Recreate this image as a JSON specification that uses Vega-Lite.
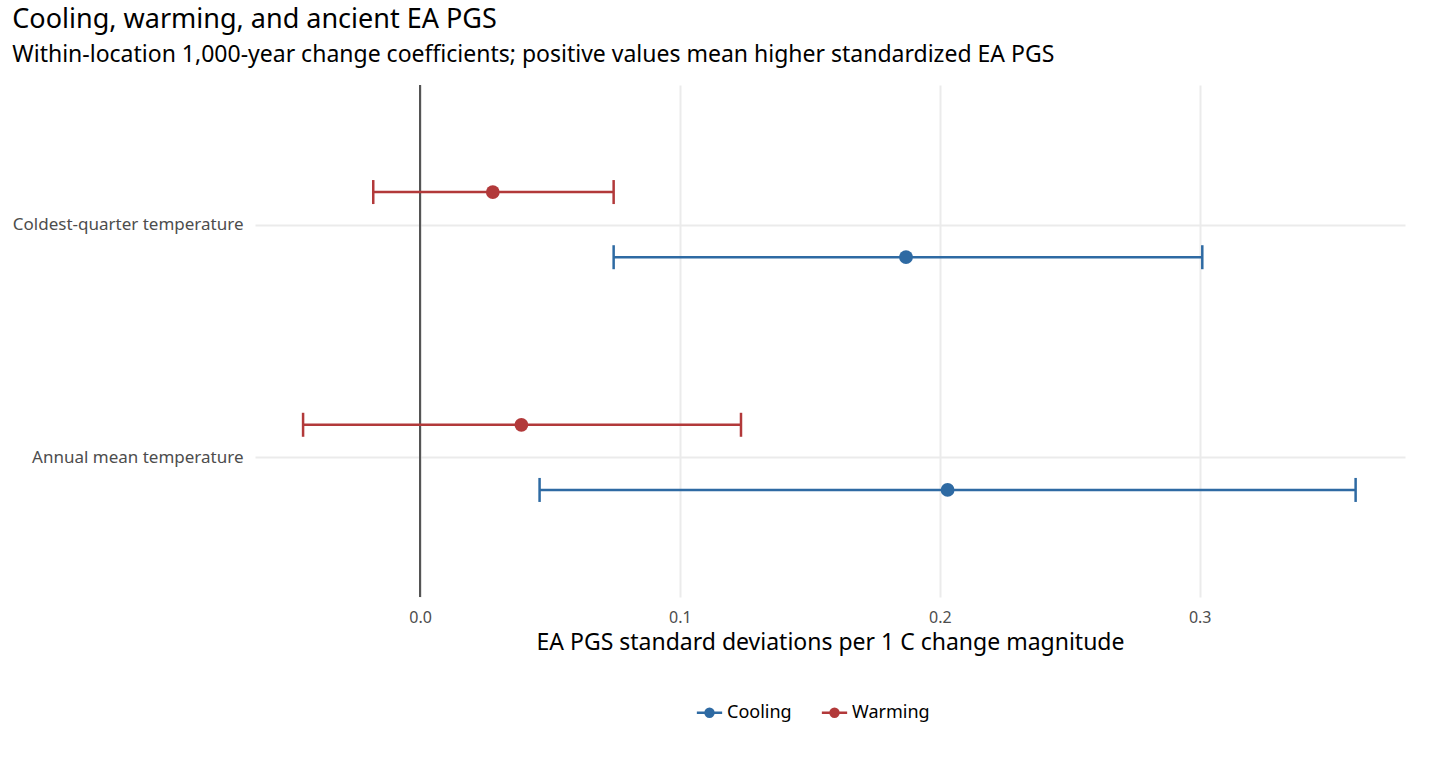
{
  "$schema": "https://vega.github.io/schema/vega-lite/v6.json",
  "width": 1150,
  "height": 512,
  "padding": {"left": 12, "top": 6, "right": 10, "bottom": 10},
  "background": "white",
  "config": {
    "font": "Noto Sans",
    "view": {"stroke": null},
    "axis": {"domain": false, "ticks": false, "grid": true, "gridColor": "#ebebeb", "gridWidth": 2, "labelColor": "#4d4d4d", "labelFontSize": 16}
  },
  "title": {
    "text": "Cooling, warming, and ancient EA PGS",
    "subtitle": "Within-location 1,000-year change coefficients; positive values mean higher standardized EA PGS",
    "anchor": "start", "frame": "bounds", "fontSize": 27, "fontWeight": "normal", "color": "#000",
    "subtitleFontSize": 23, "subtitleColor": "#000", "subtitlePadding": 10, "offset": 16
  },
  "data": {"values": [
    {"variable": "Coldest-quarter temperature", "yv": 2.14, "group": "Warming", "est": 0.028, "lo": -0.018, "hi": 0.0745},
    {"variable": "Coldest-quarter temperature", "yv": 1.86, "group": "Cooling", "est": 0.187, "lo": 0.0745, "hi": 0.301},
    {"variable": "Annual mean temperature", "yv": 1.14, "group": "Warming", "est": 0.039, "lo": -0.045, "hi": 0.1235},
    {"variable": "Annual mean temperature", "yv": 0.86, "group": "Cooling", "est": 0.203, "lo": 0.046, "hi": 0.36}
  ]},
  "encoding": {
    "y": {"field": "yv", "type": "quantitative", "scale": {"domain": [0.4, 2.6], "nice": false, "zero": false},
      "axis": {"values": [1, 2], "title": null, "grid": true, "labelFontSize": 17, "labelLimit": 400, "labelExpr": "datum.value == 2 ? 'Coldest-quarter temperature' : 'Annual mean temperature'", "labelPadding": 12}},
    "color": {"field": "group", "type": "nominal", "scale": {"domain": ["Cooling", "Warming"], "range": ["#2e6aa3", "#b2393a"]},
      "legend": {"orient": "none", "legendX": 445, "legendY": 618, "direction": "horizontal", "title": null, "labelFontSize": 18, "labelColor": "#000", "labelOffset": 8,
        "symbolType": "M-1.6,0H-0.5 M0.5,0H1.6 M-0.5,0A0.5,0.5 0 1,0 0.5,0A0.5,0.5 0 1,0 -0.5,0", "symbolSize": 250, "symbolStrokeWidth": 2.5, "symbolOpacity": 1, "columnPadding": 24}}
  },
  "layer": [
    {"mark": {"type": "rule", "color": "#555", "strokeWidth": 2}, "encoding": {"x": {"datum": 0, "type": "quantitative"}, "y": null, "color": null}},
    {"mark": {"type": "rule", "strokeWidth": 2.5, "opacity": 1},
      "encoding": {
        "x": {"field": "lo", "type": "quantitative", "scale": {"domain": [-0.0635, 0.379], "nice": false},
          "axis": {"values": [0, 0.1, 0.2, 0.3], "grid": true, "format": ".1f", "labelFontSize": 16, "title": "EA PGS standard deviations per 1 C change magnitude", "titleFontSize": 23, "titleFontWeight": "normal", "titleColor": "#000", "labelPadding": 12, "titlePadding": 6}},
        "x2": {"field": "hi"}
      }},
    {"mark": {"type": "tick", "orient": "vertical", "size": 24, "thickness": 2.5, "opacity": 1}, "encoding": {"x": {"field": "lo", "type": "quantitative"}}},
    {"mark": {"type": "tick", "orient": "vertical", "size": 24, "thickness": 2.5, "opacity": 1}, "encoding": {"x": {"field": "hi", "type": "quantitative"}}},
    {"mark": {"type": "circle", "size": 190, "opacity": 1}, "encoding": {"x": {"field": "est", "type": "quantitative"}}}
  ]
}
